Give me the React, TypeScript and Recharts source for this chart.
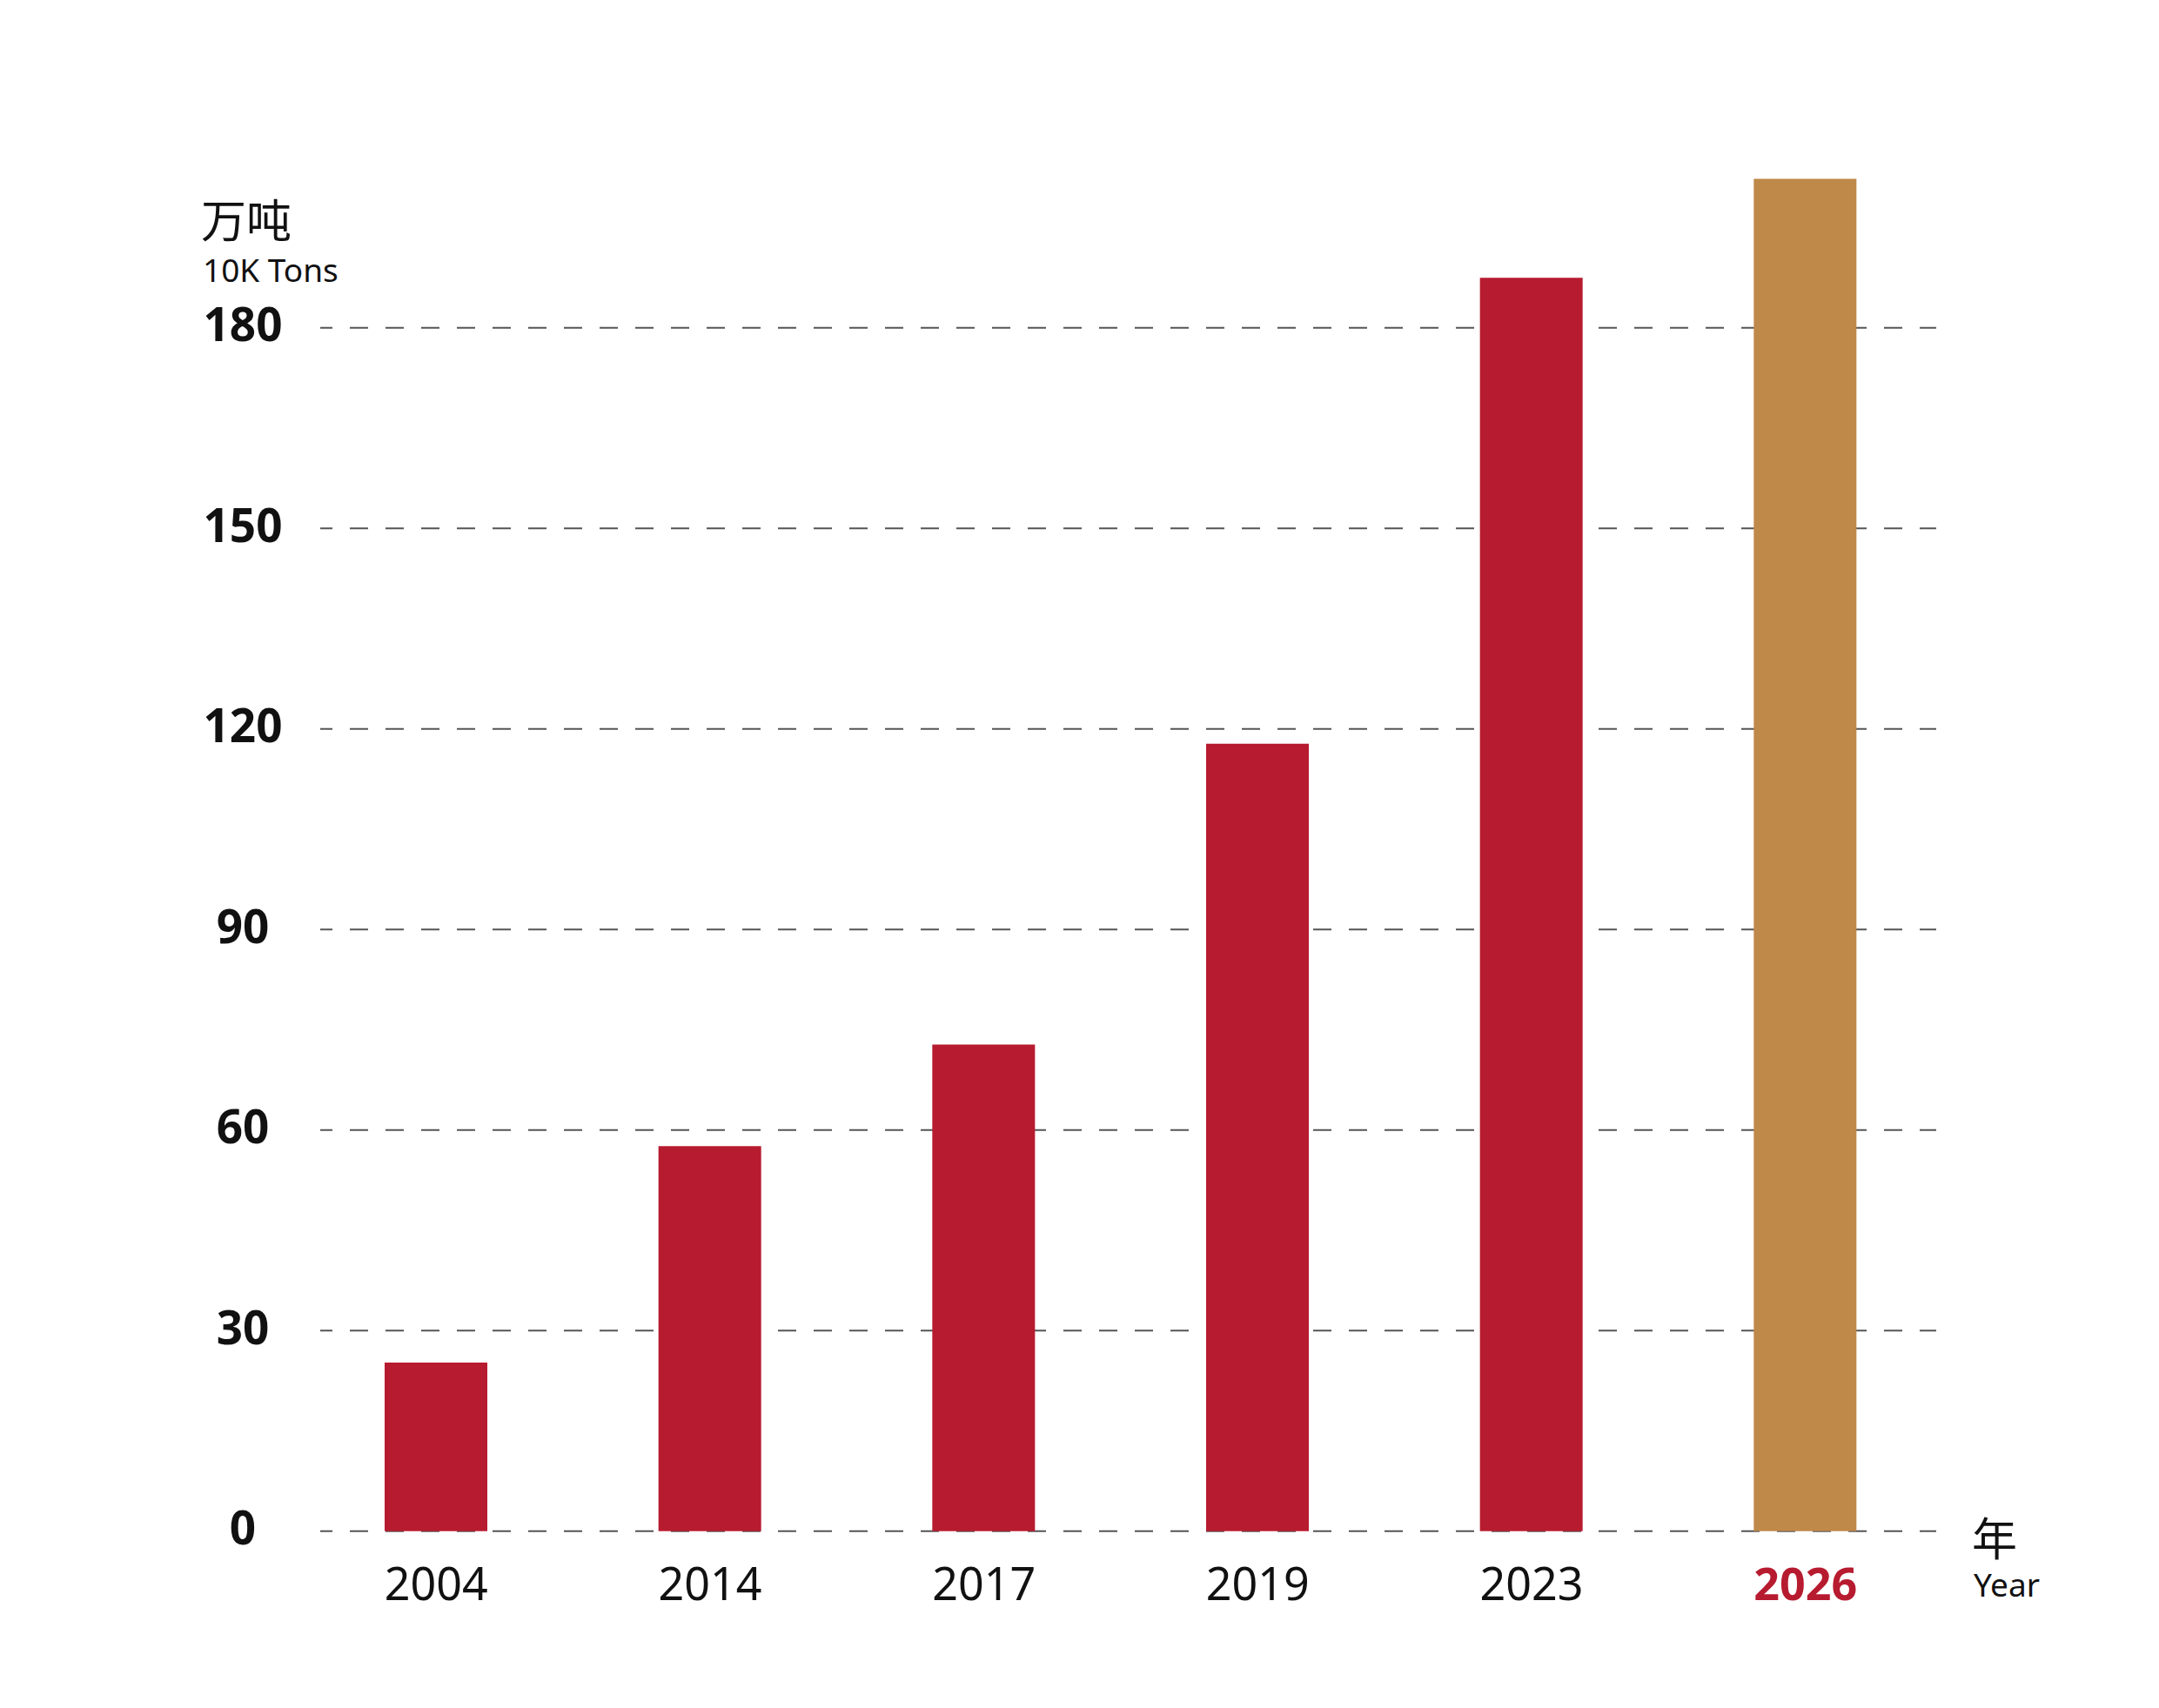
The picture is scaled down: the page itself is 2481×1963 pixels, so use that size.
import { BarChart, Bar, XAxis, YAxis, CartesianGrid, Cell } from 'recharts';

// output in 10K tons per year
const years = ['2004', '2014', '2017', '2019', '2023', '2026'];
const tonnage = [25.2, 57.6, 72.8, 117.8, 187.5, 202.3];
const yTicks = [0, 30, 60, 90, 120, 150, 180];
const forecastYear = '2026';

const RED = '#B71B2F';
const GOLD = '#BF894A';
const FONT = '"Noto Sans", "Noto Sans CJK SC", sans-serif';

const data = years.map((year, i) => ({ year, value: tonnage[i] }));

const YTick = ({ x, y, payload }: any) => (
    <text x={x - 89} y={y + 15.5} textAnchor="middle" fontFamily={FONT} fontWeight={700} fontSize={53} fill="#111">
        {payload.value}
    </text>
);

const XTick = ({ x, y, payload }: any) => {
    const isForecast = payload.value === forecastYear;
    return (
        <text
            x={x}
            y={y + 79}
            textAnchor="middle"
            fontFamily={FONT}
            fontWeight={isForecast ? 700 : 400}
            fontSize={52}
            fill={isForecast ? RED : '#111'}
        >
            {payload.value}
        </text>
    );
};

export default function App() {
    return (
        <div style={{ position: 'absolute', left: 0, top: 0, width: 2481, height: 1963, background: '#fff' }}>
            <BarChart
                width={2481}
                height={1963}
                data={data}
                margin={{ top: 146.3, right: 256, bottom: 103.3, left: 0 }}
            >
                <CartesianGrid
                    vertical={false}
                    horizontalValues={yTicks}
                    stroke="#555"
                    strokeWidth={2}
                    strokeDasharray="21 20"
                    strokeDashoffset={7}
                />
                <YAxis
                    width={368}
                    domain={[0, 210]}
                    ticks={yTicks}
                    axisLine={false}
                    tickLine={false}
                    tickSize={0}
                    tickMargin={0}
                    tick={<YTick />}
                />
                <XAxis
                    dataKey="year"
                    height={100}
                    axisLine={false}
                    tickLine={false}
                    tickSize={0}
                    tickMargin={0}
                    padding={{ left: -24, right: -7 }}
                    tick={<XTick />}
                    interval={0}
                />
                <Bar dataKey="value" barSize={118} isAnimationActive={false}>
                    {data.map((d) => (
                        <Cell key={d.year} fill={d.year === forecastYear ? GOLD : RED} />
                    ))}
                </Bar>
            </BarChart>

            {/* unit labels */}
            <svg width={2481} height={1963} style={{ position: 'absolute', left: 0, top: 0, pointerEvents: 'none' }}>
                <text fontFamily={FONT} fill="#111">
                    <tspan x={231} y={273} fontSize={52}>万吨</tspan>
                    <tspan x={233} y={324} fontSize={37}>10K Tons</tspan>
                </text>
                <text fontFamily={FONT} fill="#111">
                    <tspan x={2266} y={1788} fontSize={52}>年</tspan>
                    <tspan x={2268} y={1835} fontSize={37}>Year</tspan>
                </text>
            </svg>
        </div>
    );
}
